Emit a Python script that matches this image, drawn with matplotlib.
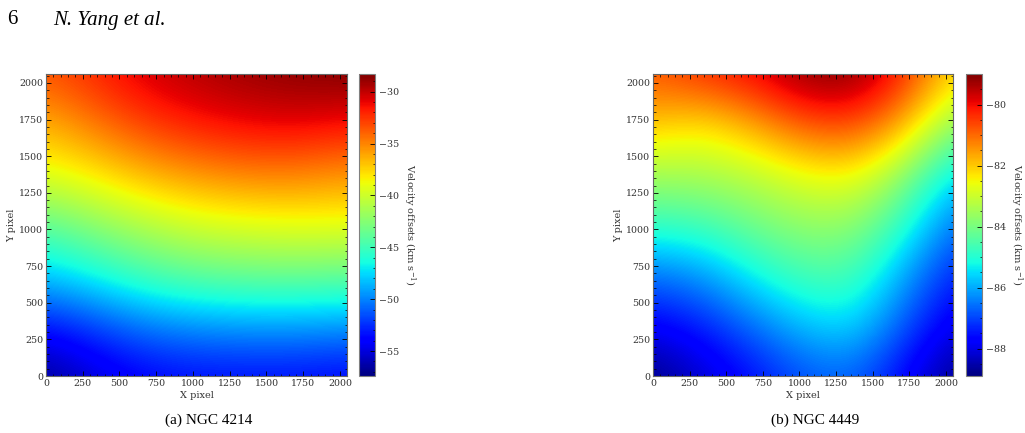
import matplotlib
matplotlib.use("Agg")
import matplotlib.pyplot as plt
from matplotlib.ticker import MultipleLocator, AutoMinorLocator
import numpy as np

plt.rcParams['font.family'] = 'DejaVu Serif'
plt.rcParams['mathtext.fontset'] = 'dejavuserif'

nodes = [0, 341, 683, 1024, 1365, 1707, 2048]

# NGC 4214, rows from y=0 (bottom) to y=2048 (top)
v_4214 = [
    [-57.0, -55.2, -54.0, -53.6, -53.6, -53.6, -53.9],
    [-53.4, -51.9, -50.3, -49.6, -49.3, -49.3, -49.5],
    [-48.0, -46.5, -44.8, -43.9, -43.5, -43.4, -43.7],
    [-44.0, -42.3, -40.9, -39.8, -39.4, -39.1, -39.1],
    [-39.3, -38.2, -36.6, -35.6, -35.0, -35.0, -35.6],
    [-36.5, -34.6, -32.8, -31.7, -31.1, -30.9, -31.5],
    [-33.5, -32.0, -30.4, -29.6, -29.0, -28.6, -28.3],
]

# NGC 4449
v_4449 = [
    [-88.9, -88.2, -87.6, -86.9, -86.7, -87.7, -88.8],
    [-87.8, -87.4, -86.6, -85.8, -85.5, -86.8, -88.0],
    [-86.6, -86.2, -85.3, -84.6, -84.6, -86.0, -87.4],
    [-84.8, -84.7, -84.1, -83.7, -83.7, -84.9, -86.6],
    [-83.5, -83.4, -83.2, -82.7, -82.5, -83.7, -85.6],
    [-82.0, -82.4, -81.7, -80.8, -80.6, -81.7, -83.8],
    [-80.8, -80.3, -79.9, -79.1, -79.0, -80.2, -82.2],
]

ranges = [(-57.4, -28.3), (-88.9, -79.0)]
cbar_steps = [5, 2]
captions = ["(a) NGC 4214", "(b) NGC 4449"]

fig = plt.figure(figsize=(10.25, 4.33), dpi=100)

W, H = 1025.0, 433.0
ax_boxes = [(46, 301), (653, 300)]
cb_left = [359, 966]
bottom, top = 376, 74

for i, data in enumerate([v_4214, v_4449]):
    x0, w = ax_boxes[i]
    ax = fig.add_axes([x0 / W, (H - bottom) / H, w / W, (bottom - top) / H])
    cax = fig.add_axes([cb_left[i] / W, (H - bottom) / H, 16 / W, (bottom - top) / H])

    half = (nodes[1] - nodes[0]) / 2.0
    im = ax.imshow(np.array(data), origin='lower', cmap='jet', interpolation='bicubic',
                   extent=[nodes[0] - half, nodes[-1] + half, nodes[0] - half, nodes[-1] + half],
                   vmin=ranges[i][0], vmax=ranges[i][1], aspect='auto')
    ax.set_xlim(0, 2048)
    ax.set_ylim(0, 2061)
    ax.xaxis.set_major_locator(MultipleLocator(250))
    ax.yaxis.set_major_locator(MultipleLocator(250))
    ax.xaxis.set_minor_locator(MultipleLocator(50))
    ax.yaxis.set_minor_locator(MultipleLocator(50))
    ax.tick_params(which='both', direction='in', top=True, right=True, labelsize=6.8, pad=2,
                   labelcolor='0.2')
    ax.tick_params(which='major', length=3.5, width=0.6)
    ax.tick_params(which='minor', length=1.8, width=0.5)
    for s in ax.spines.values():
        s.set_color('0.4')
        s.set_linewidth(0.8)
    ax.set_xlabel("X pixel", fontsize=7, labelpad=2, color='0.2')
    ax.set_ylabel("Y pixel", fontsize=7, labelpad=2, color='0.2')

    cb = fig.colorbar(im, cax=cax)
    cb.locator = MultipleLocator(cbar_steps[i])
    cb.update_ticks()
    cax.yaxis.set_minor_locator(AutoMinorLocator())
    cax.tick_params(which='both', direction='in', labelsize=6.8, pad=3, labelcolor='0.2')
    cax.tick_params(which='major', length=3.5, width=0.6)
    cax.tick_params(which='minor', length=1.8, width=0.5)
    cb.outline.set_edgecolor('0.5')
    cb.outline.set_linewidth(0.8)
    cb.set_label(r"Velocity offsets (km s$^{-1}$)", rotation=270, fontsize=7, labelpad=13,
                 color='0.2')

    fig.text((x0 + w / 2 + 12) / W, 1 - 420 / H, captions[i], ha='center', va='center',
             fontsize=11, family='Liberation Serif')

fig.text(7 / W, 1 - 20 / H, "6", fontsize=15, family='Liberation Serif', va='center')
fig.text(53 / W, 1 - 20 / H, "N. Yang et al.", fontsize=15, family='Liberation Serif',
         style='italic', va='center')

fig.savefig("out.png", dpi=100)
